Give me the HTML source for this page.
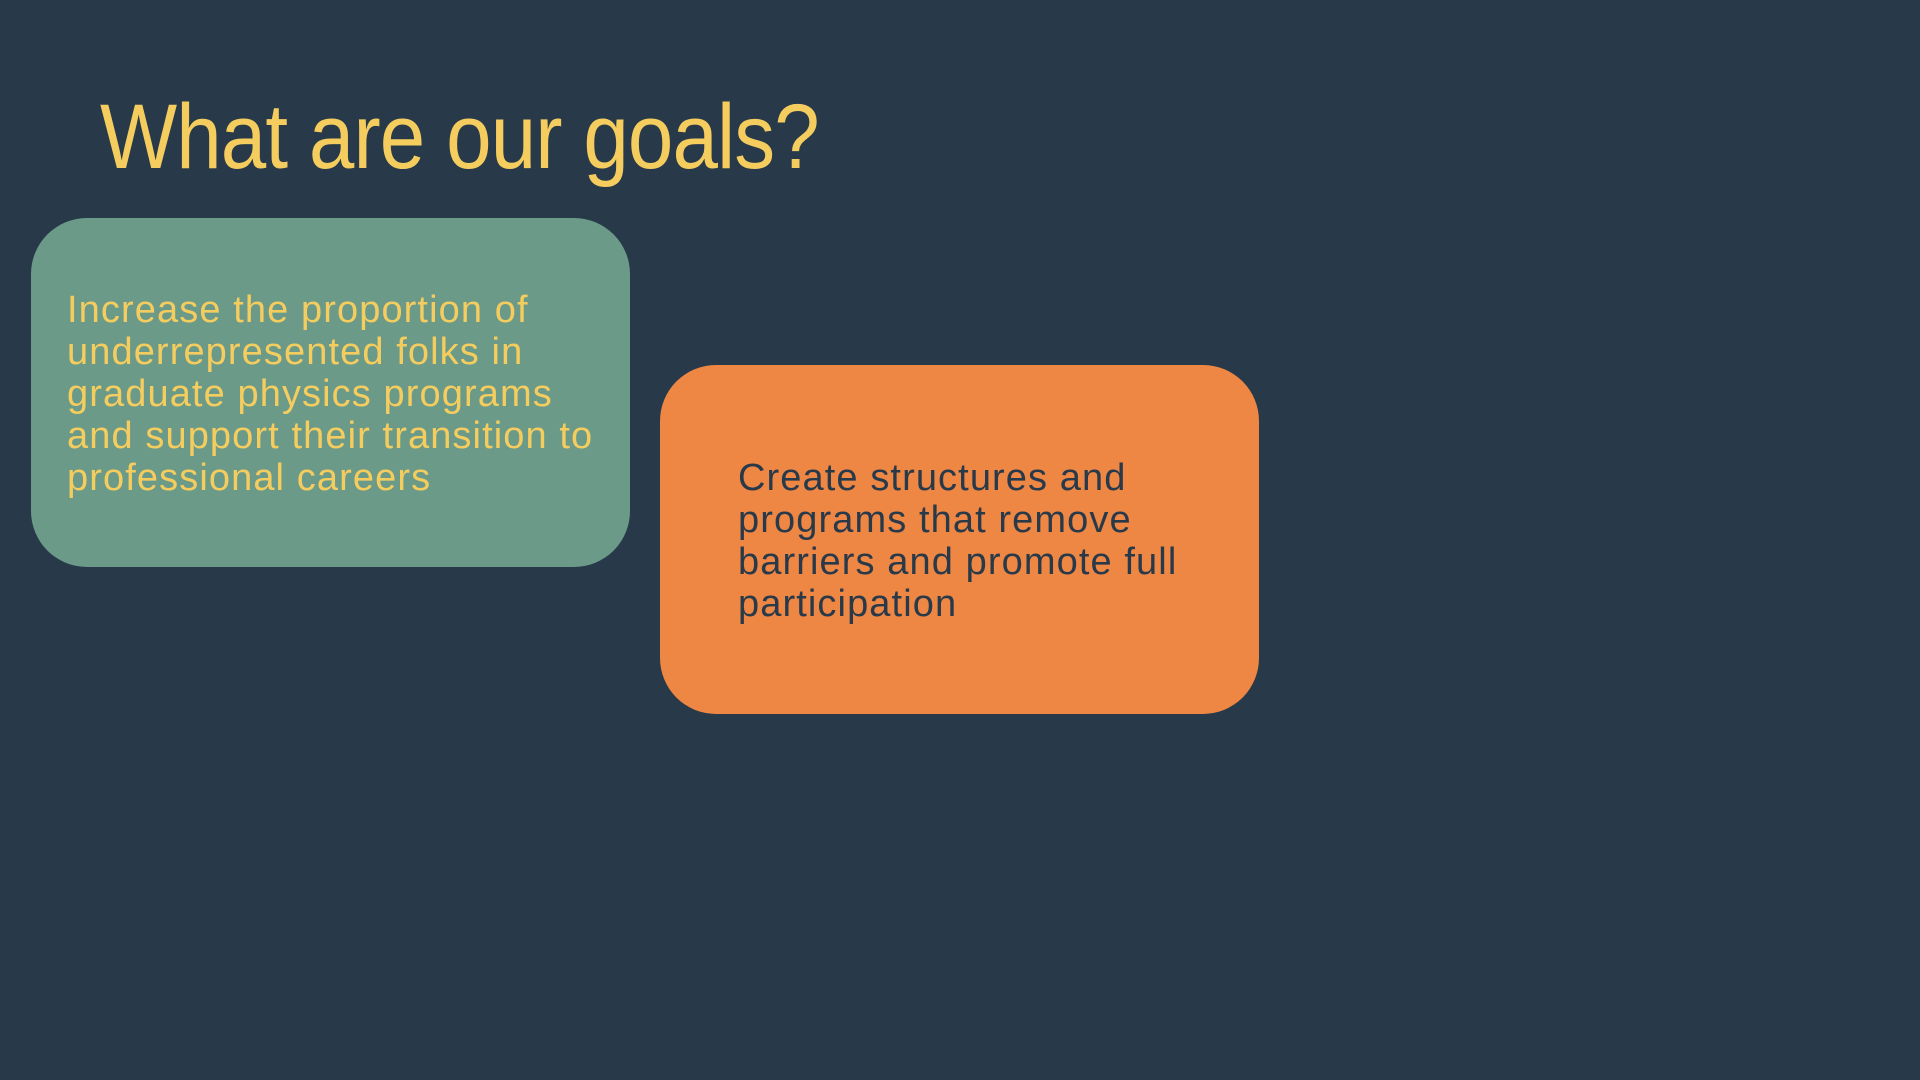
<!DOCTYPE html>
<html>
<head>
<meta charset="utf-8">
<style>
  html,body{margin:0;padding:0;}
  body{width:1920px;height:1080px;background:#283a4a;position:relative;overflow:hidden;font-family:"Liberation Sans",sans-serif;}
  .title{position:absolute;left:100px;top:91px;font-size:92px;line-height:92px;color:#f5cd5f;white-space:nowrap;letter-spacing:-1px;transform:scaleX(0.888);transform-origin:0 0;}
  .box{position:absolute;border-radius:56px;}
  .txt{position:absolute;font-size:38px;line-height:42px;white-space:nowrap;letter-spacing:1.1px;}
</style>
</head>
<body>
  <div class="title">What are our goals?</div>
  <div class="box" style="left:31px;top:218px;width:599px;height:349px;background:#6b9a89;"></div>
  <div class="txt" style="left:67px;top:289px;color:#f5cd5f;">Increase the proportion of<br>underrepresented folks in<br>graduate physics programs<br>and support their transition to<br>professional careers</div>
  <div class="box" style="left:660px;top:365px;width:599px;height:349px;background:#ee8644;"></div>
  <div class="txt" style="left:738px;top:457px;color:#283a4a;">Create structures and<br>programs that remove<br>barriers and promote full<br>participation</div>
</body>
</html>
